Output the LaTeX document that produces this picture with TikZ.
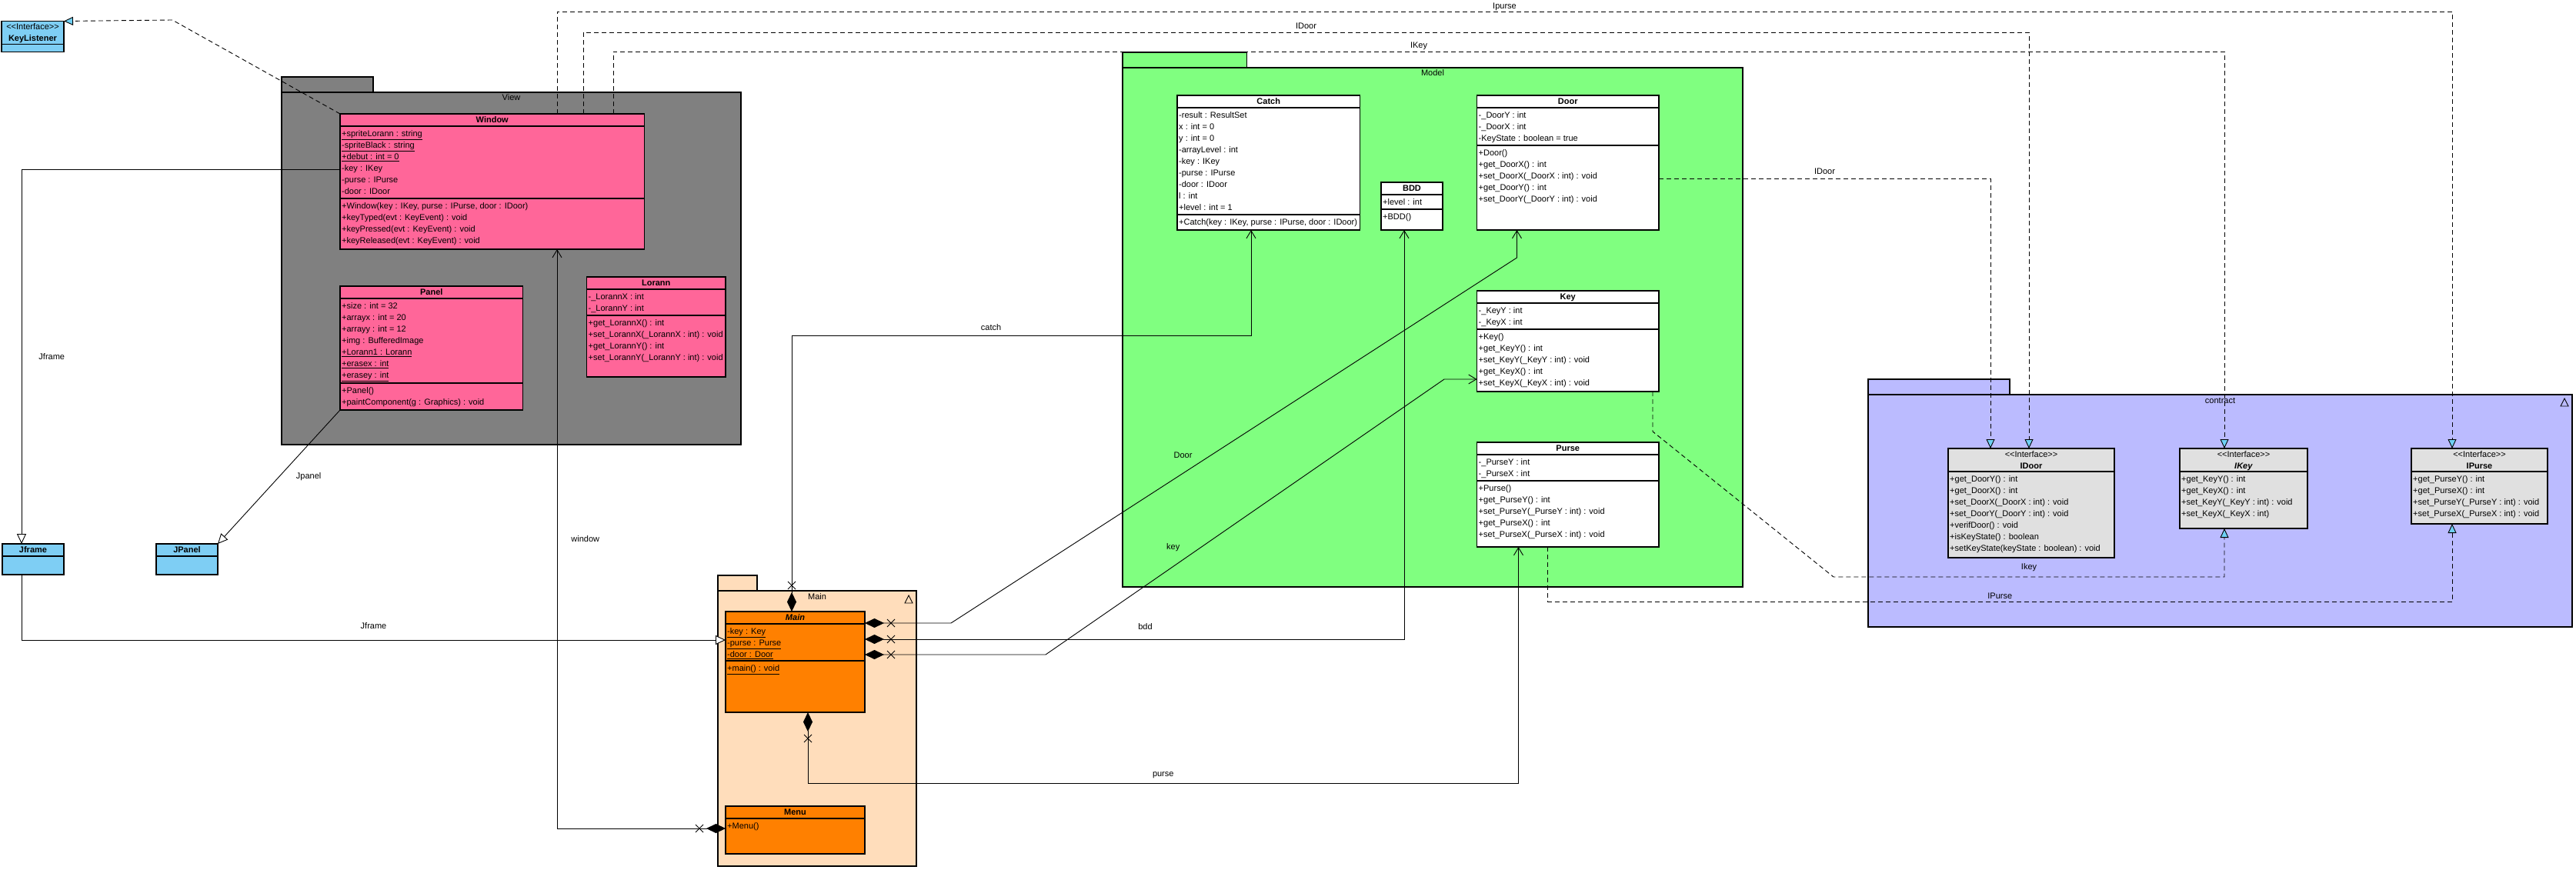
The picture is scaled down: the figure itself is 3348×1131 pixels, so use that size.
\documentclass[tikz,border=0pt]{standalone}
\usepackage{fontspec}
\setmainfont{Liberation Sans}
\usetikzlibrary{arrows.meta,positioning,decorations.markings}

\definecolor{viewgray}{HTML}{808080}
\definecolor{classpink}{HTML}{FF6699}
\definecolor{modelgreen}{HTML}{80FF80}
\definecolor{contractblue}{HTML}{BBBBFF}
\definecolor{ifacegray}{HTML}{E0E0E0}
\definecolor{mainpeach}{HTML}{FFDDBB}
\definecolor{mainorange}{HTML}{FF8000}
\definecolor{swingblue}{HTML}{7ECEF4}
\definecolor{arrowcyan}{HTML}{6FD0F5}

% class box: name, nw corner, width, height, fill, title, attribute height, attributes, operations
\newcommand{\umlclass}[9]{%
  \node[classbox, fill=#5, minimum width=#3pt, minimum height=#4pt] (#1) at #2 {};
  \node[classname] (#1-name) at ([yshift=-8.5pt]#1.north) {#6};
  \draw[boxline] ([yshift=-16pt]#1.north west) -- ([yshift=-16pt]#1.north east);
  \node[members] (#1-attr) at ([yshift=-16pt]#1.north west) {#8};
  \draw[boxline] ([yshift=-16pt-#7pt]#1.north west) -- ([yshift=-16pt-#7pt]#1.north east);
  \node[members] (#1-ops) at ([yshift=-16pt-#7pt]#1.north west) {#9};
}
% interface box: name, nw corner, width, height, fill, title, operations
\newcommand{\umliface}[7]{%
  \node[classbox, fill=#5, minimum width=#3pt, minimum height=#4pt] (#1) at #2 {};
  \node[stereo] (#1-stereo) at ([yshift=-8pt]#1.north) {<{}<Interface>{}>};
  \node[classname] (#1-name) at ([yshift=-23pt]#1.north) {#6};
  \draw[boxline] ([yshift=-30pt]#1.north west) -- ([yshift=-30pt]#1.north east);
  \node[members] (#1-ops) at ([yshift=-30pt]#1.north west) {#7};
}

\begin{document}
\begin{tikzpicture}[
    x=1pt, y=-1pt,
    classbox/.style={rectangle, draw, line width=1.2pt, inner sep=0pt, outer sep=0pt, anchor=north west},
    boxline/.style={line width=1.2pt},
    classname/.style={font=\bfseries\fontsize{11}{13}\selectfont, inner sep=0pt, text height=8pt, text depth=2pt},
    stereo/.style={font=\fontsize{11}{13}\selectfont, inner sep=0pt, text height=8pt, text depth=2pt},
    members/.style={anchor=north west, align=left, inner xsep=2pt, inner ysep=5.5pt, font=\fontsize{11}{15}\selectfont},
    pkg/.style={rectangle, draw, line width=1.3pt, inner sep=0pt, outer sep=0pt, anchor=north west},
    pkgname/.style={font=\fontsize{11}{13}\selectfont, inner sep=0pt, text height=8pt, text depth=2pt},
    lbl/.style={font=\fontsize{11}{13}\selectfont, inner sep=1pt},
    realize/.style={line width=0.9pt, dash pattern=on 6pt off 4pt, -{Triangle[length=12pt, width=11pt, fill=arrowcyan]}},
    general/.style={line width=0.9pt, -{Triangle[length=13pt, width=12pt, fill=white]}},
    compo/.style={line width=0.9pt, arrows={Diamond[length=25pt, width=12pt]-Straight Barb[length=10pt, width=12pt]},
        postaction={decorate}, decoration={markings, mark=at position 34pt with
        {\draw[-, line width=0.9pt] (-5pt,-5pt) -- (5pt,5pt) (-5pt,5pt) -- (5pt,-5pt);}}}
]
\useasboundingbox (0,0) rectangle (3348,1131);

% Packages
\node[pkg, fill=viewgray, minimum width=597pt, minimum height=458pt] (view) at (366,120) {};
\node[pkg, fill=viewgray, minimum width=119pt, minimum height=20pt, anchor=south west] (viewtab) at (view.north west) {};
\node[pkgname] (view-label) at ([yshift=-8pt]view.north) {View};

\node[pkg, fill=modelgreen, minimum width=806pt, minimum height=675pt] (model) at (1459,88) {};
\node[pkg, fill=modelgreen, minimum width=161.5pt, minimum height=20pt, anchor=south west] (modeltab) at (model.north west) {};
\node[pkgname] (model-label) at ([yshift=-8pt]model.north) {Model};

\node[pkg, fill=mainpeach, minimum width=258pt, minimum height=358pt] (mainpkg) at (933,768) {};
\node[pkg, fill=mainpeach, minimum width=51pt, minimum height=20pt, anchor=south west] (mainpkgtab) at (mainpkg.north west) {};
\node[pkgname] (mainpkg-label) at ([yshift=-8pt]mainpkg.north) {Main};
\draw[line width=0.9pt] (1176,784) -- (1181,774) -- (1186,784) -- cycle;

\node[pkg, fill=contractblue, minimum width=915pt, minimum height=302pt] (contract) at (2428,513) {};
\node[pkg, fill=contractblue, minimum width=184pt, minimum height=20pt, anchor=south west] (contracttab) at (contract.north west) {};
\node[pkgname] (contract-label) at ([yshift=-8pt]contract.north) {contract};
\draw[line width=0.9pt] (3328,528) -- (3333,518) -- (3338,528) -- cycle;

% Swing classes
\umliface{keylistener}{(2,27.5)}{81}{40}{swingblue}{KeyListener}{}
\umlclass{jframe}{(3,707)}{80}{40}{swingblue}{Jframe}{0}{}{}
\umlclass{jpanel}{(203,707)}{80}{40}{swingblue}{JPanel}{0}{}{}

% View
\umlclass{window}{(442,148)}{395.5}{176}{classpink}{Window}{94}
  {\underline{+spriteLorann : string}\\\underline{-spriteBlack : string}\\\underline{+debut : int = 0}\\-key : IKey\\-purse : IPurse\\-door : IDoor}
  {+Window(key : IKey, purse : IPurse, door : IDoor)\\+keyTyped(evt : KeyEvent) : void\\+keyPressed(evt : KeyEvent) : void\\+keyReleased(evt : KeyEvent) : void}
\umlclass{panel}{(442,372)}{237.5}{161}{classpink}{Panel}{110}
  {+size : int = 32\\+arrayx : int = 20\\+arrayy : int = 12\\+img : BufferedImage\\\underline{+Lorann1 : Lorann}\\\underline{+erasex : int}\\\underline{+erasey : int}}
  {+Panel()\\+paintComponent(g : Graphics) : void}
\umlclass{lorann}{(762.5,360)}{180.5}{130}{classpink}{Lorann}{34}
  {-\_LorannX : int\\-\_LorannY : int}
  {+get\_LorannX() : int\\+set\_LorannX(\_LorannX : int) : void\\+get\_LorannY() : int\\+set\_LorannY(\_LorannY : int) : void}

% Model
\umlclass{catch}{(1530,124)}{237.5}{175}{white}{Catch}{139}
  {-result : ResultSet\\x : int = 0\\y : int = 0\\-arrayLevel : int\\-key : IKey\\-purse : IPurse\\-door : IDoor\\l : int\\+level : int = 1}
  {+Catch(key : IKey, purse : IPurse, door : IDoor)}
\umlclass{bdd}{(1795,237)}{80}{62}{white}{BDD}{19}{+level : int}{+BDD()}
\umlclass{door}{(1919.5,124)}{236.5}{175}{white}{Door}{49}
  {-\_DoorY : int\\-\_DoorX : int\\-KeyState : boolean = true}
  {+Door()\\+get\_DoorX() : int\\+set\_DoorX(\_DoorX : int) : void\\+get\_DoorY() : int\\+set\_DoorY(\_DoorY : int) : void}
\umlclass{key}{(1919.5,378)}{236.5}{131}{white}{Key}{34}
  {-\_KeyY : int\\-\_KeyX : int}
  {+Key()\\+get\_KeyY() : int\\+set\_KeyY(\_KeyY : int) : void\\+get\_KeyX() : int\\+set\_KeyX(\_KeyX : int) : void}
\umlclass{purse}{(1919.5,575)}{236.5}{136}{white}{Purse}{34}
  {-\_PurseY : int\\-\_PurseX : int}
  {+Purse()\\+get\_PurseY() : int\\+set\_PurseY(\_PurseY : int) : void\\+get\_PurseX() : int\\+set\_PurseX(\_PurseX : int) : void}

% Main
\umlclass{main}{(943,795)}{181}{131}{mainorange}{\textit{Main}}{48}
  {\underline{-key : Key}\\\underline{-purse : Purse}\\\underline{-door : Door}}
  {\underline{+main() : void}}
\umlclass{menu}{(943,1048)}{181}{62}{mainorange}{Menu}{0}{}{+Menu()}

% contract
\umliface{idoor}{(2532,583)}{216}{142}{ifacegray}{IDoor}
  {+get\_DoorY() : int\\+get\_DoorX() : int\\+set\_DoorX(\_DoorX : int) : void\\+set\_DoorY(\_DoorY : int) : void\\+verifDoor() : void\\+isKeyState() : boolean\\+setKeyState(keyState : boolean) : void}
\umliface{ikey}{(2833,583)}{166}{104}{ifacegray}{\textit{IKey}}
  {+get\_KeyY() : int\\+get\_KeyX() : int\\+set\_KeyY(\_KeyY : int) : void\\+set\_KeyX(\_KeyX : int)}
\umliface{ipurse}{(3134,583)}{177}{98}{ifacegray}{IPurse}
  {+get\_PurseY() : int\\+get\_PurseX() : int\\+set\_PurseY(\_PurseY : int) : void\\+set\_PurseX(\_PurseX : int) : void}

% Realizations
\draw[realize] (window.north west) -- (224,26) -- (keylistener.north east);
\draw[realize] ([xshift=282pt]window.north west) |- (3187,15) node[lbl, pos=0.75, above] {Ipurse} -| ([xshift=53pt]ipurse.north west);
\draw[realize] ([xshift=316pt]window.north west) |- (2637,42) node[lbl, pos=0.75, above=3pt] {IDoor} -| ([xshift=105pt]idoor.north west);
\draw[realize] ([xshift=355pt]window.north west) |- (2891,67) node[lbl, pos=0.75, above=1pt] {IKey} -| ([xshift=58pt]ikey.north west);
\draw[realize] ([yshift=-108pt]door.north east) -- node[lbl, midway, above=4pt] {IDoor} (2587,232) -- ([xshift=55pt]idoor.north west);
\draw[realize] ([xshift=-8pt]key.south east) -- (2148,561) -- (2383,750) -- node[lbl, midway, above=6pt] {Ikey} (2891,750) -- ([xshift=58pt]ikey.south west);
\draw[realize] ([xshift=92pt]purse.south west) -- (2011.5,782) -- node[lbl, midway, above=2pt] {IPurse} (3187,782) -- ([xshift=53pt]ipurse.south west);

% Generalizations
\draw[general] ([yshift=-72pt]window.north west) -| node[lbl, pos=0.75, right=21pt] {Jframe} ([xshift=25pt]jframe.north west);
\draw[general] ([xshift=25pt]jframe.south west) |- node[lbl, pos=0.75, above=13pt] {Jframe} ([yshift=-37pt]main.north west);
\draw[general] (panel.south west) -- node[lbl, midway, right=21pt] {Jpanel} (jpanel.north east);

% Compositions
\draw[compo] ([xshift=86pt]main.north west) |- node[lbl, pos=0.717, above=5pt] {catch} (1626,436) -| ([xshift=96pt]catch.south west);
\draw[compo] ([yshift=-15pt]main.north east) -- (1236,810) -- node[lbl, pos=0.41, above=18pt] {Door} (1971.5,335) -- ([xshift=52pt]door.south west);
\draw[compo] ([yshift=-36pt]main.north east) -| node[lbl, pos=0.26, above=11pt] {bdd} ([xshift=30pt]bdd.south west);
\draw[compo] ([yshift=-56pt]main.north east) -- (1359,851) -- node[lbl, pos=0.32, above=18pt] {key} (1877,493) -- ([yshift=16pt]key.south west);
\draw[compo] ([xshift=107pt]main.south west) -- (1050,1018) -- node[lbl, midway, above=5pt] {purse} (1973.5,1018) -- ([xshift=54pt]purse.south west);
\draw[compo] ([yshift=-29pt]menu.north west) -| node[lbl, pos=0.75, right=17pt] {window} ([xshift=282pt]window.south west);

\end{tikzpicture}
\end{document}
